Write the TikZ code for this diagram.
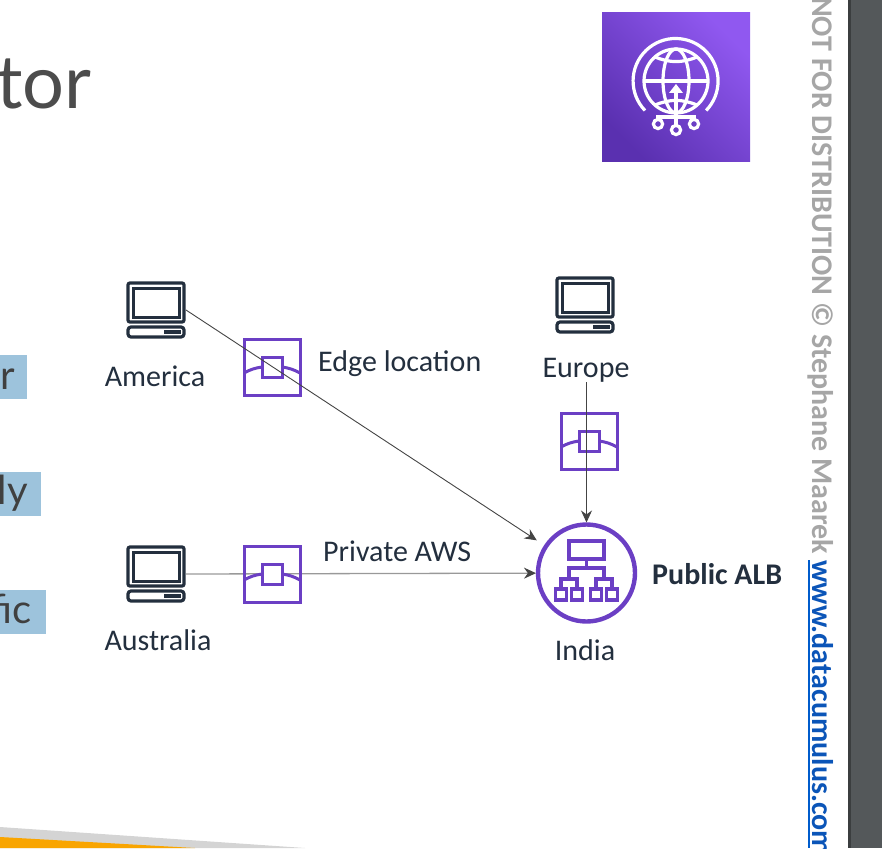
\documentclass[tikz,border=0pt]{standalone}
\usepackage{fontspec}
\setmainfont{Carlito}
\newfontfamily\slidefont{Lato}
\usetikzlibrary{arrows.meta,positioning}
\definecolor{awspurple}{HTML}{6B3FC4}
\definecolor{badgelow}{HTML}{5A30B0}
\definecolor{badgehigh}{HTML}{9058F0}
\definecolor{inkdark}{HTML}{232F3E}
\definecolor{wirecol}{HTML}{444444}
\definecolor{barblue}{HTML}{9DC3DC}
\definecolor{sidebar}{HTML}{54585A}
\definecolor{markgray}{HTML}{A6A6A6}
\definecolor{linkblue}{HTML}{0B55B8}
\definecolor{wedgeorange}{HTML}{F9A500}
\tikzset{
  lbl/.style={font=\fontsize{30}{32}\selectfont, text=inkdark, inner sep=0pt},
  wire/.style={draw=wirecol, line width=0.9pt, -{Stealth[length=12pt,width=11pt]}},
  hostbox/.style={minimum width=58pt, minimum height=56pt, inner sep=0pt, outer sep=1pt},
  edgebox/.style={draw=awspurple, line width=3pt, minimum size=56pt, inner sep=0pt, outer sep=0pt},
  slidebar/.style={font=\slidefont\fontsize{40}{42}\selectfont, text=black!75, inner sep=0pt, anchor=base east},
  host/.pic={
    \draw[inkdark, line width=3.2pt, rounded corners=2pt] (-28,-27) rectangle (28,12);
    \draw[inkdark, line width=3pt] (-23,-22) rectangle (23,7);
    \draw[inkdark, line width=3.2pt, rounded corners=3pt] (-28,17) rectangle (28,27);
    \fill[inkdark] (8,20) rectangle (25,24);
  },
  edgemark/.pic={
    \draw[awspurple, line width=3pt, fill=white] (-10,-10) rectangle (10,10);
    \draw[awspurple, line width=3pt] (-28,6) to[bend left=10] (-10,0);
    \draw[awspurple, line width=3pt] (28,6) to[bend right=10] (10,0);
  },
}
\begin{document}
\begin{tikzpicture}[x=1pt,y=-1pt]
  \useasboundingbox (0,0) rectangle (882,848);
  \clip (0,0) rectangle (882,848);

  % Bottom wedge
  \fill[black!17] (0,827) -- (305,848) -- (0,848) -- cycle;
  \fill[wedgeorange] (0,837) -- (195,848) -- (0,848) -- cycle;

  % Slide title and highlighted text
  \node[font=\slidefont\fontsize{74}{76}\selectfont, text=black!70, inner sep=0pt, anchor=base east] (slidetitle) at (92,108) {tor};
  \fill[barblue] (0,355) rectangle (27,399);
  \fill[barblue] (0,472) rectangle (41,516);
  \fill[barblue] (0,590) rectangle (46,634);
  \node[slidebar] (barone) at (15,389) {r};
  \node[slidebar] (bartwo) at (28,504) {ly};
  \node[slidebar] (barthree) at (32,623) {fic};

  % Side strip
  \fill[sidebar] (848,0) rectangle (882,848);
  \fill[black!30!sidebar] (848,0) rectangle (851,848);
  \node[rotate=-90, anchor=base west, inner sep=0pt, font=\fontsize{30}{32}\bfseries\selectfont, text=markgray] (notice) at (812,-3) {NOT FOR DISTRIBUTION © Stephane Maarek};
  \node[rotate=-90, anchor=base west, inner sep=0pt, font=\fontsize{30}{32}\bfseries\selectfont, text=linkblue] (weblink) at (812,560) {www.datacumulus.com};
  \draw[blue!55!cyan!80!black, line width=2pt] (809,560) -- (809,848);

  % Globe badge
  \shade[shading=axis, bottom color=badgelow, top color=badgehigh, shading angle=-45] (602,13) rectangle (750,161);
  \begin{scope}[shift={(676,81)}, white, line width=3.2pt]
    \draw (0,0) circle (32);
    \draw (0,0) ellipse (13 and 32);
    \draw (-32,0) -- (32,0);
    \draw (-21,-24) to[bend right=22] (21,-24);
    \draw (-21,24) to[bend left=22] (21,24);
    \draw (-31,29.5) arc[start angle=136, end angle=404, radius=42.5];
    \draw (0,6) -- (0,49);
    \fill (0,3) -- (-7,12) -- (7,12) -- cycle;
    \draw (-18,43) -- (-18,36) -- (18,36) -- (18,43);
    \foreach \px/\py in {-18/43, 0/49, 18/43}
      \draw[fill=awspurple] (\px,\py) circle (4.6);
  \end{scope}

  % Hosts
  \node[hostbox] (america) at (156,310) {};
  \node[hostbox] (europe) at (585,305) {};
  \node[hostbox] (australia) at (156,574) {};
  \pic at (america) {host};
  \pic at (europe) {host};
  \pic at (australia) {host};
  \node[lbl] (americalbl) at (155,376) {America};
  \node[lbl] (europelbl) at (586,370) {Europe};
  \node[lbl] (australialbl) at (158,640) {Australia};

  % Load balancer
  \node[circle, draw=awspurple, line width=4.4pt, minimum size=97pt, inner sep=0pt, outer sep=2pt] (alb) at (586.5,573) {};
  \begin{scope}[awspurple, line width=3.8pt]
    \draw (569,541) rectangle (604,559);
    \draw (586.5,559) -- (586.5,568);
    \draw (569,578) -- (569,568) -- (604,568) -- (604,578);
    \draw (561,588) -- (561,579) -- (577,579) -- (577,588);
    \draw (596,588) -- (596,579) -- (612,579) -- (612,588);
    \foreach \bx in {561,577,596,612}
      \draw (\bx-5.5,589) rectangle (\bx+5.5,600);
  \end{scope}
  \node[lbl] (indialbl) at (585,650) {India};
  \node[lbl, anchor=west, font=\fontsize{30}{32}\bfseries\selectfont] (alblbl) at (652,574) {Public ALB};

  % Australia line runs behind its icon
  \draw[wire, draw=black!40, line width=1.3pt, arrows={-{Stealth[length=12pt,width=11pt,wirecol]}}] (australia.east) -- (alb);

  % Edge locations
  \node[edgebox] (edgeam) at (272,367) {};
  \node[edgebox] (edgeeu) at (589,441) {};
  \node[edgebox] (edgeau) at (272,574) {};
  \pic at (edgeam) {edgemark};
  \pic at (edgeeu) {edgemark};
  \pic at (edgeau) {edgemark};
  \node[lbl, anchor=west] (edgelbl) at (318,364) {Edge location};
  \node[lbl, anchor=west] (privatelbl) at (323,551) {Private AWS};

  % Connections
  \draw[wire, shorten >=9pt] (america.east) -- (alb);
  \draw[wire] (europelbl.south -| alb) -- (alb);
\end{tikzpicture}
\end{document}
